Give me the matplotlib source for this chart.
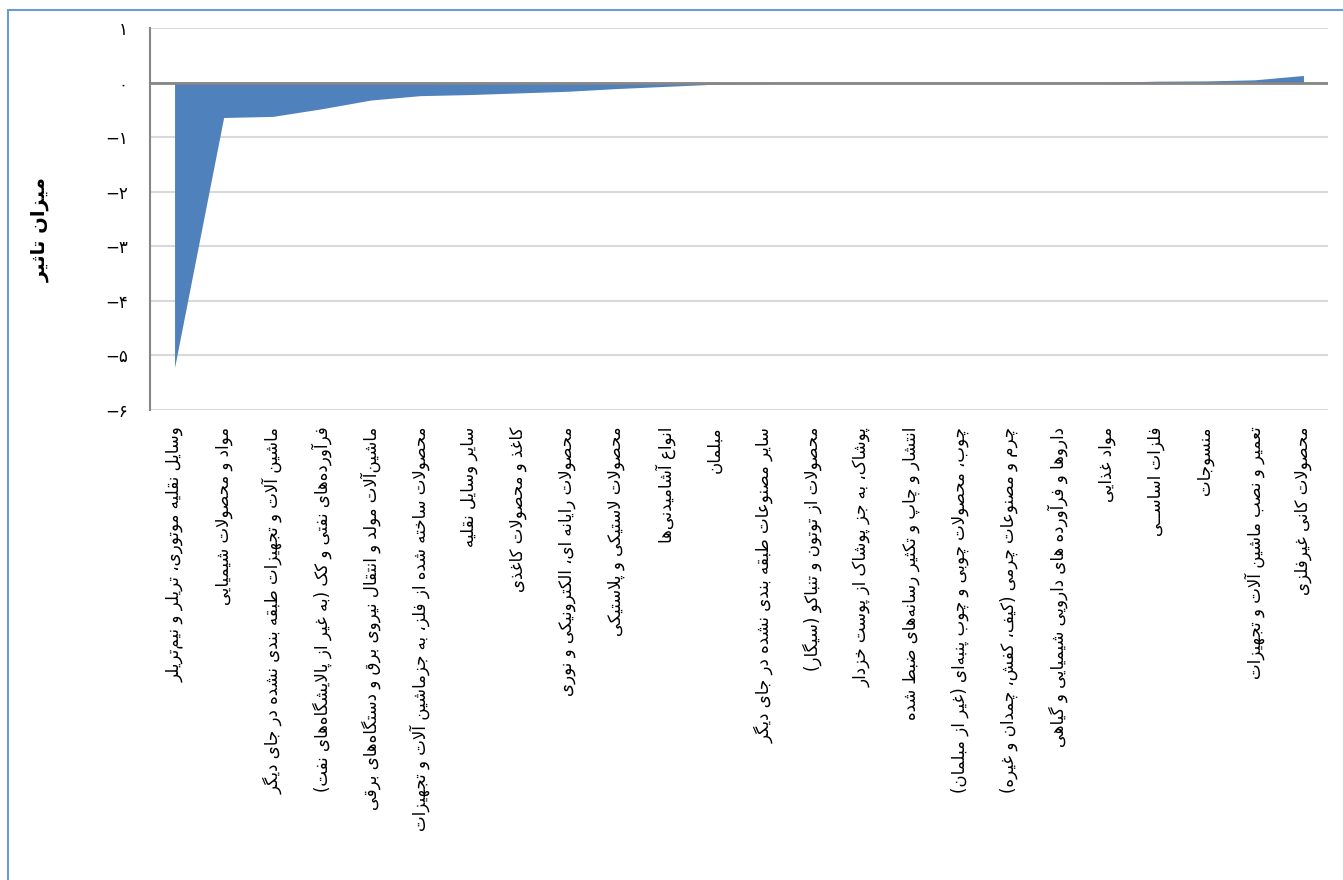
import matplotlib
matplotlib.use('Agg')
import matplotlib.pyplot as plt
from matplotlib.patches import Rectangle

# categories, left to right
labels = [
    'وسایل نقلیه موتوری، تریلر و نیم‌تریلر',
    'مواد و محصولات شیمیایی',
    'ماشین آلات و تجهیزات طبقه بندی نشده در جای دیگر',
    'فرآورده‌های نفتی و کک (به غیر از پالایشگاه‌های نفت)',
    'ماشین‌آلات مولد و انتقال نیروی برق و دستگاه‌های برقی',
    'محصولات ساخته شده از فلز، به جزماشین آلات و تجهیزات',
    'سایر وسایل نقلیه',
    'کاغذ و محصولات کاغذی',
    'محصولات رایانه ای، الکترونیکی و نوری',
    'محصولات لاستیکی و پلاستیکی',
    'انواع آشامیدنی‌ها',
    'مبلمان',
    'سایر مصنوعات طبقه بندی نشده در جای دیگر',
    'محصولات از توتون و تنباکو (سیگار)',
    'پوشاک، به جز پوشاک از پوست خزدار',
    'انتشار و چاپ و تکثیر رسانه‌های ضبط شده',
    'چوب، محصولات چوبی و چوب پنبه‌ای (غیر از مبلمان)',
    'چرم و مصنوعات چرمی (کیف، کفش، چمدان و غیره)',
    'داروها و فرآورده های دارویی شیمیایی و گیاهی',
    'مواد غذایی',
    'فلزات اساســی',
    'منسوجات',
    'تعمیر و نصب ماشین آلات و تجهیزات',
    'محصولات کانی غیرفلزی',
]
values = [-5.22, -0.64, -0.62, -0.48, -0.32, -0.24, -0.22, -0.19, -0.16, -0.11,
          -0.07, -0.03, -0.02, -0.015, -0.01, -0.005, 0.0, 0.0, 0.0, 0.005,
          0.025, 0.03, 0.05, 0.13]
yticks = [1, 0, -1, -2, -3, -4, -5, -6]
ylabel = 'میزان تاثیر'

# --- tiny arabic shaper (matplotlib does not join arabic letters) ---
# char: (isolated, final, initial, medial); None = no such form
FORMS = {
    'ء': (0xFE80, None, None, None),
    'آ': (0xFE81, 0xFE82, None, None),
    'أ': (0xFE83, 0xFE84, None, None),
    'ؤ': (0xFE85, 0xFE86, None, None),
    'إ': (0xFE87, 0xFE88, None, None),
    'ئ': (0xFE89, 0xFE8A, 0xFE8B, 0xFE8C),
    'ا': (0xFE8D, 0xFE8E, None, None),
    'ب': (0xFE8F, 0xFE90, 0xFE91, 0xFE92),
    'ة': (0xFE93, 0xFE94, None, None),
    'ت': (0xFE95, 0xFE96, 0xFE97, 0xFE98),
    'ث': (0xFE99, 0xFE9A, 0xFE9B, 0xFE9C),
    'ج': (0xFE9D, 0xFE9E, 0xFE9F, 0xFEA0),
    'ح': (0xFEA1, 0xFEA2, 0xFEA3, 0xFEA4),
    'خ': (0xFEA5, 0xFEA6, 0xFEA7, 0xFEA8),
    'د': (0xFEA9, 0xFEAA, None, None),
    'ذ': (0xFEAB, 0xFEAC, None, None),
    'ر': (0xFEAD, 0xFEAE, None, None),
    'ز': (0xFEAF, 0xFEB0, None, None),
    'س': (0xFEB1, 0xFEB2, 0xFEB3, 0xFEB4),
    'ش': (0xFEB5, 0xFEB6, 0xFEB7, 0xFEB8),
    'ص': (0xFEB9, 0xFEBA, 0xFEBB, 0xFEBC),
    'ض': (0xFEBD, 0xFEBE, 0xFEBF, 0xFEC0),
    'ط': (0xFEC1, 0xFEC2, 0xFEC3, 0xFEC4),
    'ظ': (0xFEC5, 0xFEC6, 0xFEC7, 0xFEC8),
    'ع': (0xFEC9, 0xFECA, 0xFECB, 0xFECC),
    'غ': (0xFECD, 0xFECE, 0xFECF, 0xFED0),
    'ف': (0xFED1, 0xFED2, 0xFED3, 0xFED4),
    'ق': (0xFED5, 0xFED6, 0xFED7, 0xFED8),
    'ك': (0xFED9, 0xFEDA, 0xFEDB, 0xFEDC),
    'ل': (0xFEDD, 0xFEDE, 0xFEDF, 0xFEE0),
    'م': (0xFEE1, 0xFEE2, 0xFEE3, 0xFEE4),
    'ن': (0xFEE5, 0xFEE6, 0xFEE7, 0xFEE8),
    'ه': (0xFEE9, 0xFEEA, 0xFEEB, 0xFEEC),
    'و': (0xFEED, 0xFEEE, None, None),
    'ى': (0xFEEF, 0xFEF0, None, None),
    'ي': (0xFEF1, 0xFEF2, 0xFEF3, 0xFEF4),
    'پ': (0xFB56, 0xFB57, 0xFB58, 0xFB59),
    'چ': (0xFB7A, 0xFB7B, 0xFB7C, 0xFB7D),
    'ژ': (0xFB8A, 0xFB8B, None, None),
    'ک': (0xFB8E, 0xFB8F, 0xFB90, 0xFB91),
    'گ': (0xFB92, 0xFB93, 0xFB94, 0xFB95),
    'ی': (0xFBFC, 0xFBFD, 0xFBFE, 0xFBFF),
    'ـ': (0x0640, 0x0640, 0x0640, 0x0640),
}
LAM_ALEF = {'آ': (0xFEF5, 0xFEF6), 'أ': (0xFEF7, 0xFEF8),
            'إ': (0xFEF9, 0xFEFA), 'ا': (0xFEFB, 0xFEFC)}
MIRROR = {'(': ')', ')': '('}


def dual(c):
    return c in FORMS and FORMS[c][2] is not None


def shape(s):
    out = []
    i = 0
    n = len(s)
    while i < n:
        c = s[i]
        if c not in FORMS:
            if c != '\u200c':
                out.append(MIRROR.get(c, c))
            i += 1
            continue
        prev = s[i - 1] if i > 0 else ''
        jp = dual(prev) and FORMS[c][1] is not None
        if c == 'ل' and i + 1 < n and s[i + 1] in LAM_ALEF:
            out.append(chr(LAM_ALEF[s[i + 1]][1 if jp else 0]))
            i += 2
            continue
        nxt = s[i + 1] if i + 1 < n else ''
        jn = dual(c) and nxt in FORMS
        f = FORMS[c]
        if jp and jn:
            g = f[3]
        elif jp:
            g = f[1]
        elif jn:
            g = f[2]
        else:
            g = f[0]
        out.append(chr(g))
        i += 1
    return ''.join(reversed(out))


def fa_num(v):
    d = ''.join(chr(0x06F0 + int(ch)) for ch in str(abs(v)))
    return ('\u2212' + d) if v < 0 else d


plt.rcParams['font.family'] = ['DejaVu Sans']

fig = plt.figure(figsize=(13.43, 8.8), dpi=100)
ax = fig.add_axes([150 / 1343, 1 - 410 / 880, 1178 / 1343, 382 / 880])

x = list(range(len(values)))
ax.fill_between(x, values, 0, color='#4F81BD', linewidth=0)

ax.set_xlim(-0.5, len(values) - 0.5)
ax.set_ylim(-6, 1)
ax.set_yticks(yticks)
ax.set_yticklabels([fa_num(v) for v in yticks], fontsize=12)
ax.set_xticks(x)
ax.set_xticklabels([shape(t) for t in labels], rotation=90, fontsize=12)
ax.tick_params(axis='x', length=0, pad=12)
ax.tick_params(axis='y', length=0, pad=16)

ax.grid(axis='y', color='#D9D9D9', linewidth=1.5)
ax.set_axisbelow(True)
for side in ['top', 'right', 'bottom']:
    ax.spines[side].set_visible(False)
ax.spines['left'].set_color('#868686')
ax.spines['left'].set_linewidth(1.5)
ax.axhline(0, color='#868686', linewidth=2, zorder=3)

fig.text(40 / 1343, 1 - 230 / 880, shape(ylabel), rotation=90, fontsize=14,
         fontweight='bold', ha='center', va='center')

# chart area border
fig.patches.append(Rectangle((8 / 1343, -0.1), 1.2, 1 - 10 / 880 + 0.1,
                             transform=fig.transFigure, fill=False,
                             edgecolor='#6C9BD2', linewidth=1.5))

fig.savefig('out.png', dpi=100)
